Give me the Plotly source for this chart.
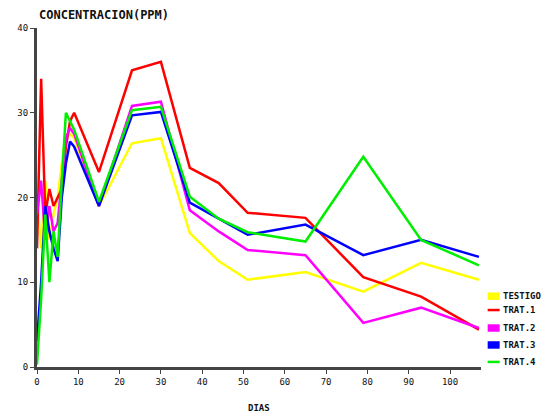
import plotly.graph_objects as go

days = [0, 1, 2, 3, 4, 5, 6, 7, 8, 9, 15, 23, 30, 37, 44, 51, 65, 79, 93, 107]

testigo = [20, 14, 22, 15, 18, 20, 24, 27.4, 27.5, 27, 19, 26.4, 27, 15.8, 12.5, 10.3, 11.2, 8.9, 12.3, 10.3]
trat1 = [14, 34, 18, 21, 19, 20, 21, 26, 29, 30, 23, 35, 36, 23.5, 21.7, 18.2, 17.6, 10.6, 8.3, 4.4]
trat2 = [18, 22, 15, 19, 16, 17, 22, 27, 28.2, 27.5, 19, 30.8, 31.3, 18.5, 16, 13.8, 13.2, 5.2, 7.0, 4.6]
trat3 = [3, 10, 19, 16, 14, 12.5, 20, 24, 26.6, 26, 19, 29.7, 30.1, 19.4, 17.5, 15.6, 16.8, 13.2, 15.0, 13.0]
trat4 = [0.3, 8, 18, 10, 16, 13, 22, 30, 29, 28, 19.5, 30.3, 30.7, 20.1, 17.5, 15.9, 14.8, 24.8, 15.0, 12.0]

names = ["TESTIGO", "TRAT.1", "TRAT.2", "TRAT.3", "TRAT.4"]
series = [testigo, trat1, trat2, trat3, trat4]
colors = ["#FFFF00", "#FF0000", "#FF00FF", "#0000FF", "#00EE00"]
legend_box = [True, False, True, True, False]

x_ticks = [0, 10, 20, 30, 40, 50, 60, 70, 80, 90, 100]
y_ticks = [0, 10, 20, 30, 40]

fig = go.Figure()
for name, vals, col in zip(names, series, colors):
    fig.add_trace(go.Scatter(x=days, y=vals, mode="lines", name=name,
                             line=dict(color=col, width=2.5), showlegend=False))

font_main = "DejaVu Sans Mono"

# manual legend (paper coordinates)
shapes = []
annotations = []
leg_y = [0.209, 0.168, 0.115, 0.065, 0.015]
for name, col, box, yy in zip(names, colors, legend_box, leg_y):
    if box:
        shapes.append(dict(type="rect", xref="paper", yref="paper",
                           x0=1.015, x1=1.042, y0=yy - 0.011, y1=yy + 0.011,
                           fillcolor=col, line=dict(width=0)))
    else:
        shapes.append(dict(type="line", xref="paper", yref="paper",
                           x0=1.015, x1=1.042, y0=yy, y1=yy,
                           line=dict(color=col, width=2.5)))
    annotations.append(dict(text="<b>" + name + "</b>", xref="paper", yref="paper",
                            x=1.046, y=yy, xanchor="left", yanchor="middle",
                            showarrow=False,
                            font=dict(size=9, family=font_main, color="#111")))

annotations.append(dict(text="<b>CONCENTRACION(PPM)</b>", xref="paper", yref="paper",
                        x=0.0, y=1, xanchor="left", yanchor="bottom", yshift=4,
                        showarrow=False, font=dict(size=12, family=font_main, color="#111")))
annotations.append(dict(text="<b>DIAS</b>", xref="paper", yref="paper",
                        x=0.5, y=-0.121, xanchor="center", yanchor="middle",
                        showarrow=False, font=dict(size=9, family=font_main, color="#111")))

fig.update_layout(
    width=546, height=411,
    margin=dict(l=29, r=73, t=20, b=52),
    plot_bgcolor="white", paper_bgcolor="white",
    font=dict(family=font_main, size=9, color="#111"),
    showlegend=False,
    xaxis=dict(range=[0, 107.5], tickvals=x_ticks, ticktext=[str(v) for v in x_ticks],
               showgrid=False, zeroline=False, showline=True, linecolor="#444", linewidth=3,
               ticks="outside", ticklen=4, tickcolor="#444", tickwidth=1,
               tickfont=dict(size=9, family=font_main), automargin=False),
    yaxis=dict(range=[0, 40], tickvals=y_ticks, ticktext=[str(v) for v in y_ticks],
               showgrid=False, zeroline=False, showline=True, linecolor="#444", linewidth=3,
               ticks="outside", ticklen=4, tickcolor="#444", tickwidth=1,
               tickfont=dict(size=9, family=font_main), automargin=False),
    shapes=shapes,
    annotations=annotations,
)

fig.write_html("out.html")
